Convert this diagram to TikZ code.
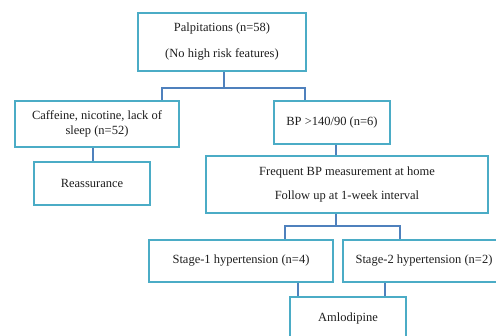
\documentclass[tikz,border=0pt]{standalone}
\usepackage{fontspec}
\setmainfont{Liberation Serif}
\definecolor{boxc}{RGB}{75,172,198}
\definecolor{linec}{RGB}{79,129,189}
\definecolor{txt}{RGB}{30,30,30}
\begin{document}
\begin{tikzpicture}[x=1pt,y=-1pt,
  box/.style={draw=boxc, line width=2.8pt, rectangle, inner sep=0pt, align=center, text=txt, font=\fontsize{12.5}{15}\selectfont},
  conn/.style={draw=linec, line width=2pt}]
\useasboundingbox (0,0) rectangle (496,336);
\clip (0,0) rectangle (496,336);
\node[box, minimum width=168, minimum height=58] (p) at (222,42) {Palpitations (n=58)\\[11pt](No high risk features)};
\node[box, minimum width=164, minimum height=46] (c) at (97,124) {Caffeine, nicotine, lack of\\sleep (n=52)};
\node[box, minimum width=116, minimum height=43] (b) at (332,122.5) {BP >140/90 (n=6)};
\node[box, minimum width=116, minimum height=43] (r) at (92,183.5) {Reassurance};
\node[box, minimum width=282, minimum height=57] (f) at (347,184.5) {Frequent BP measurement at home\\[9pt]Follow up at 1-week interval};
\node[box, minimum width=184, minimum height=42] (s1) at (241,261) {Stage-1 hypertension (n=4)};
\node[box, minimum width=162, minimum height=42] (s2) at (424,261) {Stage-2 hypertension (n=2)};
\node[box, minimum width=116, minimum height=42] (a) at (348,318) {Amlodipine};
\coordinate (jL) at (162,88);
\coordinate (jR) at (305,88);
\coordinate (jM) at (224,88);
\draw[conn] (p.south -| jM) -- (jM);
\draw[conn] (c.north -| jL) -- (jL) -- (jR) -- (b.north -| jR);
\coordinate (k1) at (93,150);
\draw[conn] (c.south -| k1) -- (r.north -| k1);
\coordinate (k2) at (336,150);
\draw[conn] (b.south -| k2) -- (f.north -| k2);
\coordinate (hL) at (285,226);
\coordinate (hR) at (400,226);
\coordinate (hM) at (336,226);
\draw[conn] (f.south -| hM) -- (hM);
\draw[conn] (s1.north -| hL) -- (hL) -- (hR) -- (s2.north -| hR);
\coordinate (q1) at (298,290);
\coordinate (q2) at (385,290);
\draw[conn] (s1.south -| q1) -- (a.north -| q1);
\draw[conn] (s2.south -| q2) -- (a.north -| q2);
\end{tikzpicture}
\end{document}
